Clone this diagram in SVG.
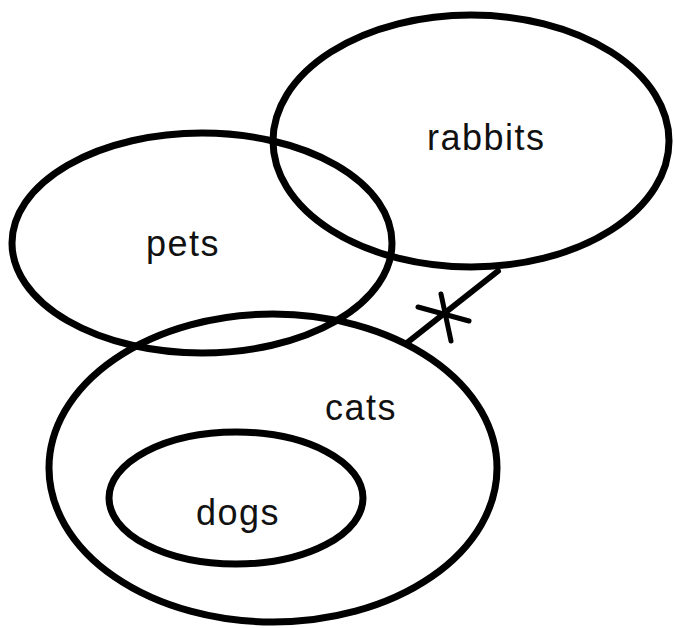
<svg xmlns="http://www.w3.org/2000/svg" width="674" height="628" viewBox="0 0 674 628">
<style>
.set{fill:none;stroke:#000;stroke-width:7}
.lbl{font-family:"Liberation Sans",Arial,sans-serif;font-size:36px;letter-spacing:1.5px;fill:#111}
.conn{stroke:#000;stroke-width:6;fill:none;stroke-linecap:round}
.star{stroke:#000;stroke-width:5;fill:none;stroke-linecap:round}
</style>
<rect width="674" height="628" fill="#fff"/>
<g id="rabbits"><ellipse class="set" cx="471" cy="141" rx="198" ry="126"/><text class="lbl" x="427" y="150">rabbits</text></g>
<g id="pets"><ellipse class="set" cx="202" cy="243" rx="190" ry="110"/><text class="lbl" x="146" y="256">pets</text></g>
<g id="cats"><ellipse class="set" cx="273" cy="468" rx="224" ry="154"/><text class="lbl" x="325" y="420">cats</text></g>
<g id="dogs"><ellipse class="set" cx="236" cy="498" rx="127" ry="66"/><text class="lbl" x="196" y="525">dogs</text></g>
<g id="connectors">
<line class="conn" x1="408" y1="342" x2="498" y2="271"/>
<line class="star" x1="418" y1="307" x2="469" y2="321"/>
<line class="star" x1="441" y1="294" x2="451" y2="341"/>
</g>
</svg>
